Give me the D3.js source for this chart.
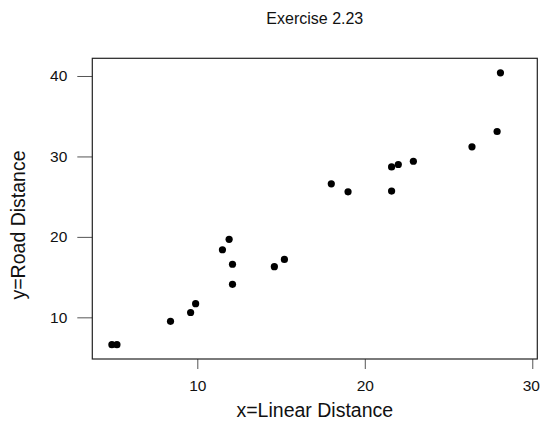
<!DOCTYPE html>
<html>
<head>
<meta charset="utf-8">
<script src="https://cdn.jsdelivr.net/npm/d3@7"></script>
<style>
  body { margin: 0; background: #fff; }
  svg text { font-family: "Liberation Sans", Arial, Helvetica, sans-serif; fill: #111; }
</style>
</head>
<body>
<div id="chart"></div>
<script>
// data
var linearDist = [4.9, 5.2, 8.4, 9.6, 9.9, 11.5, 11.9, 12.1, 12.1, 14.6, 15.2,
                  18.0, 19.0, 21.6, 22.0, 21.6, 22.9, 26.4, 27.9, 28.1];
var roadDist = [6.6, 6.6, 9.5, 10.6, 11.7, 18.4, 19.7, 16.6, 14.1, 16.3, 17.2,
                26.6, 25.6, 28.7, 29.0, 25.7, 29.4, 31.2, 33.1, 40.4];
var xTicks = [10, 20, 30];
var yTicks = [10, 20, 30, 40];

var svgWidth = 540;
var svgHeight = 423;

// plot box
var box = { left: 92.3, right: 537.3, top: 58.3, bottom: 359 };

var svg = d3.select("#chart")
  .append("svg")
  .attr("width", svgWidth)
  .attr("height", svgHeight);

var points = linearDist.map(function(d, i) { return { x: d, y: roadDist[i] }; });

var xScale = d3.scaleLinear()
  .domain([3.73, 30.3])
  .range([box.left, box.right]);

var yScale = d3.scaleLinear()
  .domain([4.82, 42.2])
  .range([box.bottom, box.top]);

// axes
var xAxis = d3.axisBottom(xScale).tickValues(xTicks).tickSize(10).tickPadding(11);
var yAxis = d3.axisLeft(yScale).tickValues(yTicks).tickSize(15).tickPadding(10);

var gx = svg.append("g")
  .attr("transform", `translate(0, ${box.bottom})`)
  .call(xAxis);
var gy = svg.append("g")
  .attr("transform", `translate(${box.left}, 0)`)
  .call(yAxis);

[gx, gy].forEach(function(g) {
  g.select(".domain").remove();
  g.selectAll("line").attr("stroke", "#555");
  g.selectAll("text").attr("font-size", 15.5).attr("fill", "#111")
    .attr("font-family", "Liberation Sans, Arial, sans-serif");
});

// keep the last x label inside the page, like the reference
gx.selectAll(".tick text").filter(d => d === 30).attr("dx", "-1.5");

// plot frame
svg.append("rect")
  .attr("x", box.left)
  .attr("y", box.top)
  .attr("width", box.right - box.left)
  .attr("height", box.bottom - box.top)
  .attr("fill", "none")
  .attr("stroke", "#222")
  .attr("stroke-width", 1.2);

// points
svg.selectAll("circle")
  .data(points)
  .enter()
  .append("circle")
  .attr("cx", d => xScale(d.x))
  .attr("cy", d => yScale(d.y))
  .attr("r", 3.6)
  .attr("fill", "#000");

// title
svg.append("text")
  .attr("x", (box.left + box.right) / 2)
  .attr("y", 24.3)
  .attr("text-anchor", "middle")
  .attr("font-size", 16)
  .text("Exercise 2.23");

// x label
svg.append("text")
  .attr("x", (box.left + box.right) / 2)
  .attr("y", 417)
  .attr("text-anchor", "middle")
  .attr("font-size", 19.5)
  .text("x=Linear Distance");

// y label
svg.append("text")
  .attr("transform", "translate(25, 225) rotate(-90)")
  .attr("text-anchor", "middle")
  .attr("font-size", 19.5)
  .text("y=Road Distance");
</script>
</body>
</html>
